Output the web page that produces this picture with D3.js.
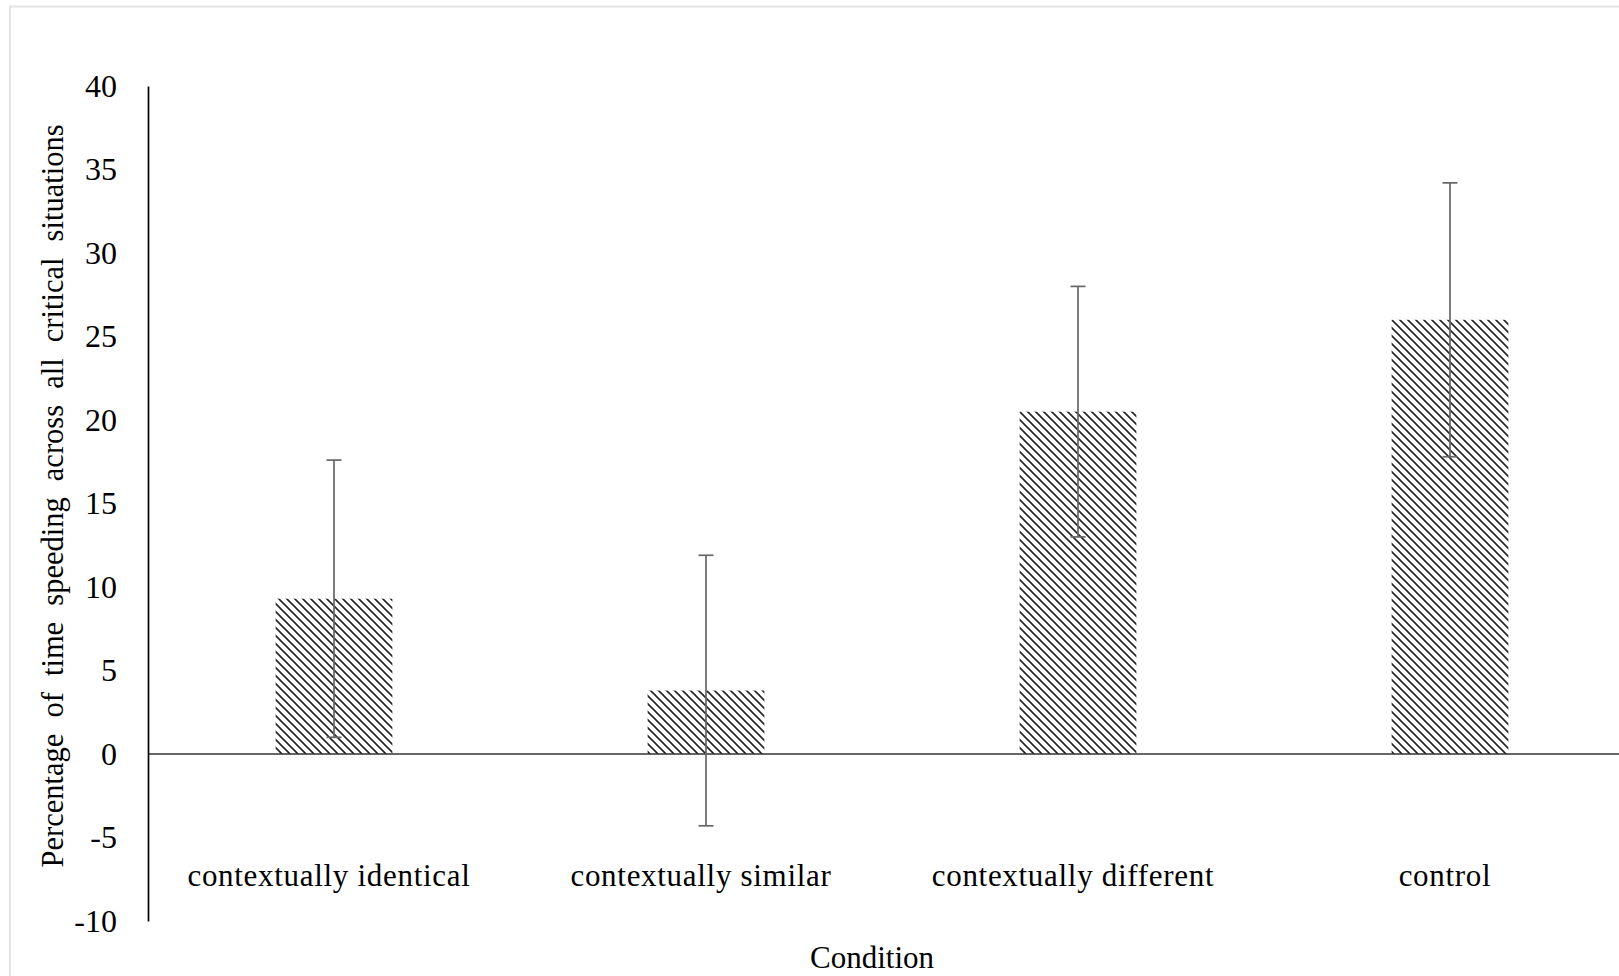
<!DOCTYPE html>
<html>
<head>
<meta charset="utf-8">
<script src="https://cdn.jsdelivr.net/npm/d3@7"></script>
<style>
  body { margin: 0; background: #fff; }
  svg text { font-family: "Liberation Serif", "Times New Roman", serif; fill: #000; }
</style>
</head>
<body>
<svg id="chart" width="1619" height="976"></svg>
<script>
// condition means and error bars (percent of time speeding)
var categories = ["contextually identical", "contextually similar", "contextually different", "control"];
var means = [9.3, 3.8, 20.5, 26.0];
var errors = [8.3, 8.1, 7.5, 8.2];
var yTicks = [-10, -5, 0, 5, 10, 15, 20, 25, 30, 35, 40];

var svg = d3.select("#chart");

var plotLeft = 148, plotTop = 86, plotBottom = 921, plotRight = 1636;

// faint frame round the chart area
svg.append("path")
    .attr("d", "M10,976 L10,6.5 L1619,6.5")
    .attr("fill", "none")
    .attr("stroke", "#e3e3e3")
    .attr("stroke-width", 2);

// hatch pattern for the bars
var defs = svg.append("defs");
var pat = defs.append("pattern")
    .attr("id", "hatch")
    .attr("patternUnits", "userSpaceOnUse")
    .attr("width", 8)
    .attr("height", 8);
pat.append("path")
    .attr("d", "M0,0 L8,8 M-2,6 L2,10 M6,-2 L10,2")
    .attr("stroke", "#222")
    .attr("stroke-width", 1.6);

var y = d3.scaleLinear().domain([-10, 40]).range([plotBottom, plotTop]);

var x = d3.scaleBand()
    .domain(categories)
    .range([plotLeft, plotRight])
    .paddingInner(0.686)
    .paddingOuter(0.343);

// bars
svg.selectAll("rect.bar")
    .data(categories)
    .enter().append("rect")
    .attr("class", "bar")
    .attr("x", function (d) { return x(d); })
    .attr("width", x.bandwidth())
    .attr("y", function (d, i) { return y(means[i]); })
    .attr("height", function (d, i) { return y(0) - y(means[i]); })
    .attr("fill", "url(#hatch)");

// zero line
svg.append("line")
    .attr("x1", plotLeft).attr("x2", 1619)
    .attr("y1", y(0)).attr("y2", y(0))
    .attr("stroke", "#333")
    .attr("stroke-width", 1.6);

// error bars
var errG = svg.selectAll("g.err")
    .data(categories)
    .enter().append("g")
    .attr("class", "err")
    .attr("stroke", "#666")
    .attr("stroke-width", 1.7);

errG.append("line")
    .attr("x1", function (d) { return x(d) + x.bandwidth() / 2; })
    .attr("x2", function (d) { return x(d) + x.bandwidth() / 2; })
    .attr("y1", function (d, i) { return y(means[i] + errors[i]); })
    .attr("y2", function (d, i) { return y(means[i] - errors[i]); });

[1, -1].forEach(function (sign) {
    errG.append("line")
        .attr("x1", function (d) { return x(d) + x.bandwidth() / 2 - 7.5; })
        .attr("x2", function (d) { return x(d) + x.bandwidth() / 2 + 7.5; })
        .attr("y1", function (d, i) { return y(means[i] + sign * errors[i]); })
        .attr("y2", function (d, i) { return y(means[i] + sign * errors[i]); });
});

// y axis (plain hyphen for negatives, like the original)
var yAxis = d3.axisLeft(y)
    .tickValues(yTicks)
    .tickFormat(function (d) { return String(d); })
    .tickSize(0)
    .tickPadding(31);
var gy = svg.append("g").attr("transform", "translate(" + plotLeft + ",0)").call(yAxis);
gy.select(".domain").attr("stroke", "#000").attr("stroke-width", 1.7);
gy.selectAll("text")
    .style("font-family", "Liberation Serif")
    .attr("font-size", 32)
    .attr("fill", "#000");

// category labels
svg.selectAll("text.cat")
    .data(categories)
    .enter().append("text")
    .attr("class", "cat")
    .attr("x", function (d) { return x(d) + x.bandwidth() / 2 - 5; })
    .attr("y", 886)
    .attr("text-anchor", "middle")
    .attr("font-size", 31)
    .style("letter-spacing", "0.7px")
    .text(function (d) { return d; });

// axis titles
svg.append("text")
    .attr("x", 872)
    .attr("y", 968)
    .attr("text-anchor", "middle")
    .attr("font-size", 31)
    .text("Condition");

svg.append("text")
    .attr("transform", "translate(63,496) rotate(-90)")
    .attr("text-anchor", "middle")
    .attr("font-size", 30.5)
    .style("word-spacing", "8.5px")
    .text("Percentage of time speeding across all critical situations");
</script>
</body>
</html>
